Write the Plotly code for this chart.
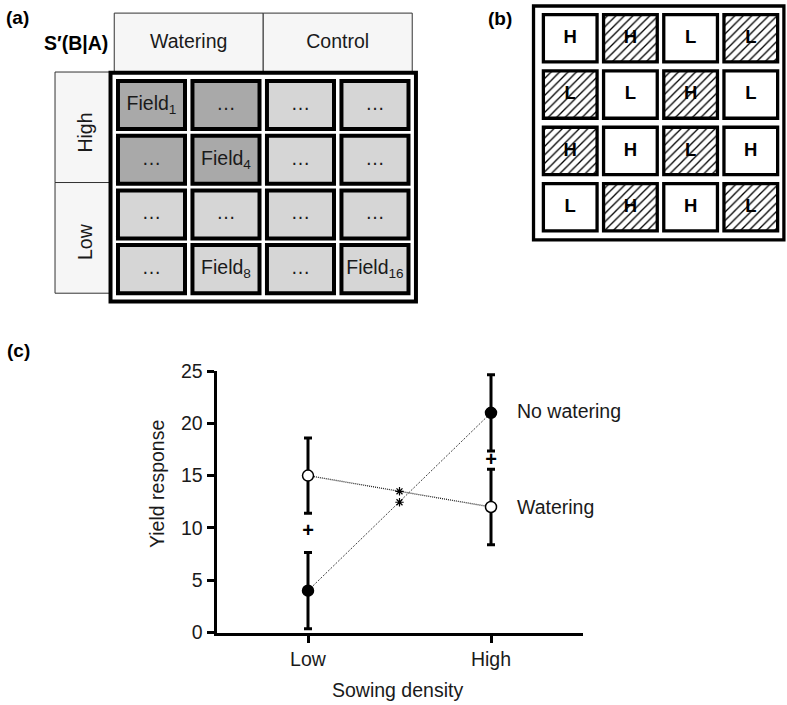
import plotly.graph_objects as go

# ---------------- data ----------------
# Panel (a): field layout of the split-plot design
a_treatments = ["Watering", "Control"]
a_densities = ["High", "Low"]
a_rows = [0, 0, 0, 0, 1, 1, 1, 1, 2, 2, 2, 2, 3, 3, 3, 3]
a_cols = [0, 1, 2, 3, 0, 1, 2, 3, 0, 1, 2, 3, 0, 1, 2, 3]
a_labels = ["Field<sub>1</sub>", "…", "…", "…",
            "…", "Field<sub>4</sub>", "…", "…",
            "…", "…", "…", "…",
            "…", "Field<sub>8</sub>", "…", "Field<sub>16</sub>"]
a_watered_high = [1, 1, 0, 0, 1, 1, 0, 0, 0, 0, 0, 0, 0, 0, 0, 0]

# Panel (b): randomised layout (H/L density, hatched = watered)
b_rows = [0, 0, 0, 0, 1, 1, 1, 1, 2, 2, 2, 2, 3, 3, 3, 3]
b_cols = [0, 1, 2, 3, 0, 1, 2, 3, 0, 1, 2, 3, 0, 1, 2, 3]
b_labels = ["H", "H", "L", "L",
            "L", "L", "H", "L",
            "H", "H", "L", "H",
            "L", "H", "H", "L"]
b_hatched = [0, 1, 0, 1,
             1, 0, 1, 0,
             1, 0, 1, 0,
             0, 1, 0, 1]

# Panel (c): yield response
density = ["Low", "High"]
density_pos = [0, 1]
watering = [15.0, 12.0]
watering_err = [3.6, 3.6]
no_watering = [4.0, 21.0]
no_watering_err = [3.65, 3.65]
plus_y = [9.6, 16.4]
star_x = [0.5, 0.5]
star_y = [13.5, 12.45]
yticks = [0, 5, 10, 15, 20, 25]

# ---------------- layout helpers ----------------
W, H = 787, 705
FONT = "Liberation Sans, Arial, Helvetica, sans-serif"
TXT = "#1a1a1a"


def px(x):
    return x / W


def py(y):
    return 1 - y / H


fig = go.Figure()

# ---------- panel (a) ----------
A_CELL_W, A_CELL_H = 0.9, 0.878
fig.add_trace(go.Bar(
    x=a_cols, y=[A_CELL_H] * len(a_rows),
    base=[r - A_CELL_H / 2 for r in a_rows],
    width=A_CELL_W,
    marker=dict(color=["#a9a9a9" if w else "#d6d6d6" for w in a_watered_high],
                line=dict(color="black", width=4)),
    xaxis="x2", yaxis="y2", showlegend=False, hoverinfo="skip"))
fig.add_trace(go.Scatter(
    x=a_cols, y=a_rows, text=a_labels, mode="text",
    textfont=dict(family=FONT, size=19.5, color=TXT),
    textposition="middle center",
    xaxis="x2", yaxis="y2", showlegend=False, hoverinfo="skip"))
fig.add_trace(go.Scatter(
    x=[0.5, 2.5], y=[-1.13, -1.13], text=a_treatments, mode="text",
    textfont=dict(family=FONT, size=19.5, color=TXT),
    xaxis="x2", yaxis="y2", showlegend=False, hoverinfo="skip"))

shapes = []
# header boxes
for x0, x1 in [(-0.5, 1.5), (1.5, 3.5)]:
    shapes.append(dict(type="rect", xref="x2", yref="y2", x0=x0, x1=x1,
                       y0=-1.68, y1=-0.60, fillcolor="#f6f6f6",
                       line=dict(color="#333", width=1), layer="below"))
# side boxes
for y0, y1 in [(-0.603, 1.417), (1.417, 3.44)]:
    shapes.append(dict(type="rect", xref="x2", yref="y2", x0=-1.295, x1=-0.557,
                       y0=y0, y1=y1, fillcolor="#f6f6f6",
                       line=dict(color="#333", width=1), layer="below"))
# outer thick frame
shapes.append(dict(type="rect", xref="x2", yref="y2", x0=-0.55, x1=3.55,
                   y0=-0.59, y1=3.59, line=dict(color="black", width=4)))

annotations = []
for lab, r in zip(a_densities, [0.5, 2.5]):
    annotations.append(dict(x=-0.89, y=r, xref="x2", yref="y2", text=lab,
                            textangle=-90, showarrow=False,
                            xanchor="center", yanchor="middle",
                            font=dict(family=FONT, size=19.5, color=TXT)))

# ---------- panel (b) ----------
B_CELL_W, B_CELL_H = 0.892, 0.84
fig.add_trace(go.Bar(
    x=b_cols, y=[B_CELL_H] * len(b_rows),
    base=[r - B_CELL_H / 2 for r in b_rows],
    width=B_CELL_W,
    marker=dict(color="white", line=dict(color="black", width=3.3),
                pattern=dict(shape=["/" if h else "" for h in b_hatched],
                             fgcolor="black", bgcolor="white",
                             size=6, solidity=0.22, fillmode="replace")),
    xaxis="x3", yaxis="y3", showlegend=False, hoverinfo="skip"))
fig.add_trace(go.Scatter(
    x=b_cols, y=b_rows, text=b_labels, mode="text",
    textfont=dict(family=FONT, size=18.5, color="black", weight="bold"),
    xaxis="x3", yaxis="y3", showlegend=False, hoverinfo="skip"))
shapes.append(dict(type="rect", xref="x3", yref="y3", x0=-0.61, x1=3.55,
                   y0=-0.574, y1=3.58, line=dict(color="black", width=3.3)))

# ---------- panel (c) ----------
fig.add_trace(go.Scatter(
    x=density_pos, y=no_watering, mode="lines+markers", name="No watering",
    error_y=dict(type="data", array=no_watering_err, color="black",
                 thickness=3, width=4),
    line=dict(color="#444", width=1, dash="2px,1.5px"),
    marker=dict(symbol="circle", size=11, color="black",
                line=dict(color="black", width=1.5)),
    xaxis="x", yaxis="y", showlegend=False))
fig.add_trace(go.Scatter(
    x=density_pos, y=watering, mode="lines+markers", name="Watering",
    error_y=dict(type="data", array=watering_err, color="black",
                 thickness=3, width=4),
    line=dict(color="#222", width=1.3, dash="1px,1px"),
    marker=dict(symbol="circle", size=11, color="white",
                line=dict(color="black", width=1.5)),
    xaxis="x", yaxis="y", showlegend=False))
fig.add_trace(go.Scatter(
    x=density_pos, y=plus_y, mode="text", text=["<b>+</b>", "<b>+</b>"],
    textfont=dict(family=FONT, size=20, color="black"),
    xaxis="x", yaxis="y", showlegend=False, hoverinfo="skip"))
fig.add_trace(go.Scatter(
    x=star_x, y=star_y, mode="markers",
    marker=dict(symbol="asterisk-open", size=7, color="black",
                line=dict(color="black", width=1.2)),
    xaxis="x", yaxis="y", showlegend=False, hoverinfo="skip"))

annotations += [
    dict(x=1, y=no_watering[1], xref="x", yref="y", text="No watering",
         xanchor="left", yanchor="middle", xshift=24, yshift=2, showarrow=False,
         font=dict(family=FONT, size=19.5, color=TXT)),
    dict(x=1, y=watering[1], xref="x", yref="y", text="Watering",
         xanchor="left", yanchor="middle", xshift=24, showarrow=False,
         font=dict(family=FONT, size=19.5, color=TXT)),
    dict(x=px(157), y=py(484), xref="paper", yref="paper", text="Yield response",
         textangle=-90, showarrow=False, xanchor="center", yanchor="middle",
         font=dict(family=FONT, size=19.5, color=TXT)),
    dict(x=px(398), y=py(690), xref="paper", yref="paper", text="Sowing density",
         showarrow=False, xanchor="center", yanchor="middle",
         font=dict(family=FONT, size=19.5, color=TXT)),
    dict(x=px(17), y=py(17), xref="paper", yref="paper", text="<b>(a)</b>",
         showarrow=False, xanchor="center", yanchor="middle",
         font=dict(family=FONT, size=19, color="black")),
    dict(x=px(500), y=py(18), xref="paper", yref="paper", text="<b>(b)</b>",
         showarrow=False, xanchor="center", yanchor="middle",
         font=dict(family=FONT, size=19, color="black")),
    dict(x=px(18), y=py(350), xref="paper", yref="paper", text="<b>(c)</b>",
         showarrow=False, xanchor="center", yanchor="middle",
         font=dict(family=FONT, size=19, color="black")),
    dict(x=px(110), y=py(43), xref="paper", yref="paper", text="<b>S′(B|A)</b>",
         xanchor="right", yanchor="middle", showarrow=False,
         font=dict(family=FONT, size=19.5, color="black")),
]

hidden = dict(visible=False, showgrid=False, zeroline=False)
fig.update_layout(
    width=W, height=H, margin=dict(l=0, r=0, t=0, b=0, pad=0, autoexpand=False),
    paper_bgcolor="white", plot_bgcolor="rgba(0,0,0,0)",
    barmode="overlay", showlegend=False,
    font=dict(family=FONT, color=TXT),
    xaxis=dict(domain=[px(216.5), px(582.5)], range=[-0.5, 1.5],
               tickmode="array", tickvals=density_pos, ticktext=density,
               showline=True, linecolor="black", linewidth=3,
               ticks="outside", ticklen=7, tickwidth=3, tickcolor="black",
               showgrid=False, zeroline=False, automargin=False,
               tickfont=dict(family=FONT, size=19.5, color=TXT)),
    yaxis=dict(domain=[py(632.5), py(371)], range=[0, 25],
               tickmode="array", tickvals=yticks,
               showline=True, linecolor="black", linewidth=3,
               ticks="outside", ticklen=7, tickwidth=3, tickcolor="black",
               showgrid=False, zeroline=False, automargin=False,
               tickfont=dict(family=FONT, size=19.5, color=TXT)),
    xaxis2=dict(domain=[px(17.4), px(423.4)], range=[-1.8, 3.65], anchor="y2", **hidden),
    yaxis2=dict(domain=[py(312.9), py(3.8)], range=[3.8, -1.85], anchor="x2", **hidden),
    xaxis3=dict(domain=[px(528.1), px(786.9)], range=[-0.7, 3.6], anchor="y3", **hidden),
    yaxis3=dict(domain=[py(243.8), py(1.7)], range=[3.65, -0.65], anchor="x3", **hidden),
    shapes=shapes, annotations=annotations,
)

fig.write_html("out.html")
